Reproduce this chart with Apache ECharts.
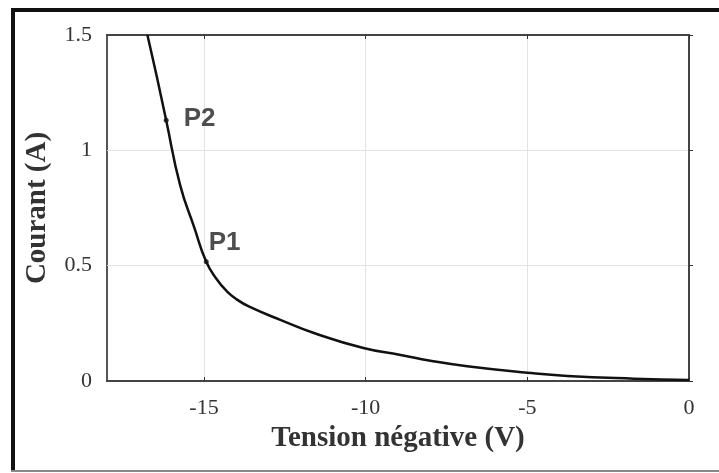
<!DOCTYPE html>
<html>
<head>
<meta charset="utf-8">
<script src="https://cdn.jsdelivr.net/npm/echarts@6/dist/echarts.min.js"></script>
<style>
html,body{margin:0;padding:0;background:#fff;}
#chart{width:719px;height:473px;}
</style>
</head>
<body>
<div id="chart"></div>
<script>
// Data
const voltage = [-16.75, -16.46, -16.17, -15.74, -15.3, -14.93, -14.6, -14.3, -14.0, -13.6, -12.64, -11.6, -10.07, -8.92, -8.0, -6.86, -5.0, -3.76, -1.7, 0];
const current = [1.5, 1.32, 1.13, 0.85, 0.665, 0.517, 0.44, 0.39, 0.355, 0.322, 0.265, 0.208, 0.143, 0.113, 0.088, 0.064, 0.036, 0.022, 0.01, 0.004];
const pointNames = ['P2', 'P1'];
const pointVoltage = [-16.17, -14.93];
const pointCurrent = [1.13, 0.517];
const xTicks = [-15, -10, -5, 0];
const xName = 'Tension négative (V)';
const yName = 'Courant (A)';

const labelPlacement = { P2: { distance: 15, offset: [0, -2] }, P1: { distance: 0, offset: [0, -19] } };

const chart = echarts.init(document.getElementById('chart'));
const serif = '"Liberation Serif", "Times New Roman", serif';
const tickFont = { fontFamily: serif, fontSize: 22, color: '#333' };

const xBase = {
  type: 'value', min: -18, max: 0,
  axisLine: { show: true, onZero: false, lineStyle: { color: '#444', width: 2 } },
  axisTick: { show: true, inside: true, length: 4, customValues: xTicks, lineStyle: { color: '#333' } },
  splitLine: { show: false }
};

chart.setOption({
  animation: false,
  backgroundColor: '#fff',
  graphic: [
    { type: 'rect', shape: { x: 11, y: 8, width: 708, height: 4 }, style: { fill: '#111' }, z: 100 },
    { type: 'rect', shape: { x: 11, y: 8, width: 4, height: 464 }, style: { fill: '#111' }, z: 100 },
    { type: 'rect', shape: { x: 11, y: 470, width: 708, height: 2 }, style: { fill: '#888' }, z: 100 }
  ],
  grid: { left: 107, top: 35, width: 582, height: 346, show: true, borderColor: '#555', borderWidth: 2, backgroundColor: 'transparent' },
  xAxis: [
    Object.assign({}, xBase, {
      position: 'bottom',
      name: xName, nameLocation: 'middle', nameGap: 42,
      nameTextStyle: { fontFamily: serif, fontSize: 29, fontWeight: 'bold', color: '#333' },
      axisLabel: Object.assign({ margin: 16, customValues: xTicks, formatter: v => String(v) }, tickFont),
      splitLine: { show: true, lineStyle: { color: '#e3e3e3', width: 1 } }
    }),
    Object.assign({}, xBase, { position: 'top', axisLabel: { show: false } })
  ],
  yAxis: {
    type: 'value', min: 0, max: 1.5, interval: 0.5,
    name: yName, nameLocation: 'middle', nameGap: 55,
    nameTextStyle: { fontFamily: serif, fontSize: 29, fontWeight: 'bold', color: '#333' },
    axisLine: { show: true, lineStyle: { color: '#444', width: 2 } },
    axisTick: { show: true, inside: true, length: 4, lineStyle: { color: '#333' } },
    axisLabel: Object.assign({ margin: 15, formatter: v => String(v) }, tickFont),
    splitLine: { show: true, lineStyle: { color: '#e3e3e3', width: 1 } }
  },
  series: [
    {
      type: 'line', xAxisIndex: 0,
      data: voltage.map((v, i) => [v, current[i]]),
      smooth: 0.5, showSymbol: false, clip: true,
      lineStyle: { color: '#111', width: 2.5 }
    },
    {
      type: 'scatter', xAxisIndex: 0,
      symbol: 'circle', symbolSize: 5,
      itemStyle: { color: '#111' },
      data: pointNames.map((n, i) => ({
        name: n, value: [pointVoltage[i], pointCurrent[i]],
        label: { show: true, position: 'right', distance: labelPlacement[n].distance, offset: labelPlacement[n].offset,
                 formatter: '{b}', fontFamily: '"Liberation Sans", Arial, sans-serif', fontWeight: 'bold', fontSize: 26, color: '#222' }
      })),
      z: 5
    }
  ]
});
</script>
</body>
</html>
